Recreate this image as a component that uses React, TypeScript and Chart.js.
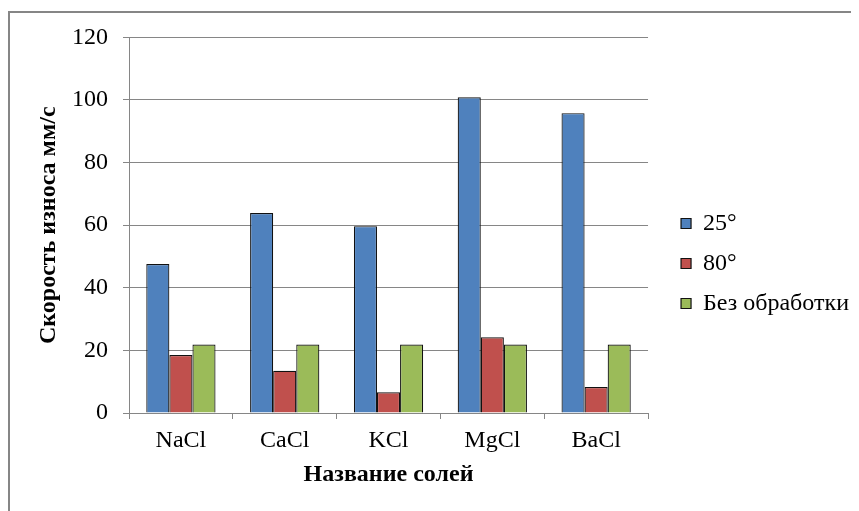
import React, { useEffect, useRef } from "react";
import { Chart, registerables } from "chart.js";

Chart.register(...registerables);

const salts = ["NaCl", "CaCl", "KCl", "MgCl", "BaCl"];
const wear25 = [47.6, 63.9, 59.7, 100.9, 95.8];
const wear80 = [18.5, 13.5, 6.6, 24.2, 8.3];
const untreated = [21.9, 21.9, 21.9, 21.9, 21.9];
const seriesNames = ["25°", "80°", "Без обработки"];
const yTicks = [0, 20, 40, 60, 80, 100, 120];

const FONT = "'Liberation Serif', 'Times New Roman', serif";
const AXIS_GREY = "#868686";

// Thin grey frame along the top and left edges of the chart object
const framePlugin = {
  id: "frame",
  beforeDraw(chart: Chart) {
    const ctx = chart.ctx;
    ctx.save();
    ctx.fillStyle = AXIS_GREY;
    ctx.fillRect(0, 3, chart.width, 2);
    ctx.fillRect(0, 3, 2, chart.height);
    ctx.restore();
  },
};

export default function App() {
  const ref = useRef<HTMLCanvasElement | null>(null);

  useEffect(() => {
    if (!ref.current) return;
    const border = "#111111";
    const chart = new Chart(ref.current, {
      type: "bar",
      data: {
        labels: salts,
        datasets: [
          { label: seriesNames[0], data: wear25, backgroundColor: "#4F81BD", borderColor: border, borderWidth: 1.2 },
          { label: seriesNames[1], data: wear80, backgroundColor: "#C0504D", borderColor: border, borderWidth: 1.2 },
          { label: seriesNames[2], data: untreated, backgroundColor: "#9BBB59", borderColor: border, borderWidth: 1.2 },
        ],
      },
      options: {
        responsive: false,
        animation: false,
        events: [],
        layout: { padding: { top: 22, right: 0, bottom: 14, left: 26 } },
        datasets: {
          bar: { barPercentage: 1, categoryPercentage: 0.667 },
        },
        plugins: {
          tooltip: { enabled: false },
          legend: {
            position: "right",
            align: "center",
            maxWidth: 230,
            labels: {
              color: "#000",
              font: { family: FONT, size: 24 },
              boxWidth: 10,
              boxHeight: 10,
              padding: 16,
            },
          },
        },
        scales: {
          x: {
            afterFit(scale: any) {
              scale.height = 84;
            },
            grid: {
              offset: true,
              drawOnChartArea: false,
              drawTicks: true,
              tickLength: 6,
              color: AXIS_GREY,
            },
            border: { color: AXIS_GREY },
            ticks: {
              color: "#000",
              font: { family: FONT, size: 24 },
              padding: 7,
            },
            title: {
              display: true,
              text: "Название солей",
              color: "#000",
              font: { family: FONT, size: 24, weight: "bold" },
              padding: { top: 0, bottom: 8 },
            },
          },
          y: {
            min: 0,
            max: 120,
            afterBuildTicks(scale: any) {
              scale.ticks = yTicks.map((v) => ({ value: v }));
            },
            afterFit(scale: any) {
              scale.width = 95;
            },
            grid: { color: AXIS_GREY, tickLength: 6 },
            border: { color: AXIS_GREY },
            ticks: {
              color: "#000",
              font: { family: FONT, size: 24 },
              padding: 15,
            },
            title: {
              display: true,
              text: "Скорость износа мм/с",
              color: "#000",
              font: { family: FONT, size: 24, weight: "bold" },
              padding: { top: 0, bottom: 0 },
            },
          },
          // empty spacer between the plot and the legend
          gap: {
            type: "linear",
            position: "right",
            display: true,
            grid: { display: false },
            border: { display: false },
            ticks: { display: false },
            afterFit(scale: any) {
              scale.width = 17;
            },
          },
        },
      },
      plugins: [framePlugin],
    });
    return () => chart.destroy();
  }, []);

  return <canvas ref={ref} width={851} height={503} style={{ display: "block" }} />;
}
